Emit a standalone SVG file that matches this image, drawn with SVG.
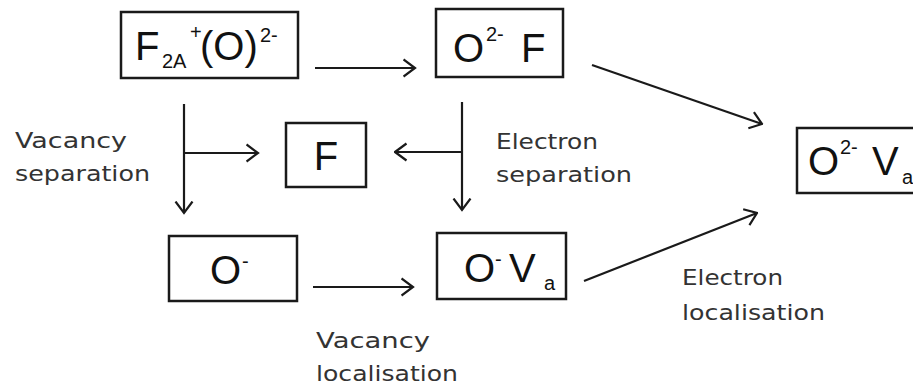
<svg xmlns="http://www.w3.org/2000/svg" width="913" height="385" viewBox="0 0 913 385">
<style>
.box{fill:#fff;stroke:#1a1a1a;stroke-width:2.5}
.n{font-family:"Liberation Sans",Arial,sans-serif;font-size:40px;fill:#111}
.s{font-family:"Liberation Sans",Arial,sans-serif;font-size:20px;fill:#111}
.lbl{font-family:"DejaVu Sans",sans-serif;font-size:21px;fill:#333}
.c{stroke:#1a1a1a;stroke-width:2.2;fill:none;marker-end:url(#ah)}
</style>
<defs>
<marker id="ah" viewBox="0 0 14 20" refX="12.5" refY="10" markerWidth="14" markerHeight="20" markerUnits="userSpaceOnUse" orient="auto">
<path d="M1,1.5 L12.5,10 L1,18.5" fill="none" stroke="#1a1a1a" stroke-width="2.2"/>
</marker>
</defs>
<rect width="913" height="385" fill="#fff"/>
<g id="connectors">
<line class="c" x1="315" y1="68" x2="415" y2="68"/>
<line class="c" x1="184" y1="104" x2="184" y2="213"/>
<line class="c" x1="184" y1="153" x2="258" y2="153"/>
<line class="c" x1="462" y1="102" x2="462" y2="210"/>
<line class="c" x1="462" y1="152" x2="395" y2="152"/>
<line class="c" x1="592" y1="65" x2="762" y2="124"/>
<line class="c" x1="584" y1="281" x2="757" y2="213"/>
<line class="c" x1="313" y1="287" x2="413" y2="287"/>
</g>
<g id="node-F2A">
<rect class="box" x="121" y="12" width="177" height="66"/>
<text class="n" x="135" y="60">F</text>
<text class="s" x="162" y="68">2A</text>
<text class="s" x="190" y="39">+</text>
<text class="n" x="200" y="60">(O)</text>
<text class="s" x="260" y="42">2-</text>
</g>
<g id="node-O2F">
<rect class="box" x="436" y="9" width="127" height="68"/>
<text class="n" x="453" y="62">O</text>
<text class="s" x="486" y="41">2-</text>
<text class="n" x="521" y="62">F</text>
</g>
<g id="node-O2Va">
<rect class="box" x="797" y="128" width="120" height="65"/>
<text class="n" x="808" y="175">O</text>
<text class="s" x="840" y="154">2-</text>
<text class="n" x="872" y="175">V</text>
<text class="s" x="902" y="184">a</text>
</g>
<g id="node-F">
<rect class="box" x="286" y="123" width="80" height="64"/>
<text class="n" x="326" y="170" text-anchor="middle">F</text>
</g>
<g id="node-Om">
<rect class="box" x="169" y="236" width="128" height="65"/>
<text class="n" x="210" y="284">O</text>
<text class="s" x="242" y="268">-</text>
</g>
<g id="node-OmVa">
<rect class="box" x="437" y="233" width="129" height="66"/>
<text class="n" x="464" y="282">O</text>
<text class="s" x="495" y="266">-</text>
<text class="n" x="509" y="282">V</text>
<text class="s" x="544" y="290">a</text>
</g>
<g id="labels">
<text class="lbl" x="15" y="148" textLength="112" lengthAdjust="spacingAndGlyphs">Vacancy</text>
<text class="lbl" x="15" y="181" textLength="135" lengthAdjust="spacingAndGlyphs">separation</text>
<text class="lbl" x="496" y="149" textLength="102" lengthAdjust="spacingAndGlyphs">Electron</text>
<text class="lbl" x="496" y="182" textLength="136" lengthAdjust="spacingAndGlyphs">separation</text>
<text class="lbl" x="316" y="348" textLength="114" lengthAdjust="spacingAndGlyphs">Vacancy</text>
<text class="lbl" x="316" y="381" textLength="142" lengthAdjust="spacingAndGlyphs">localisation</text>
<text class="lbl" x="682" y="285" textLength="101" lengthAdjust="spacingAndGlyphs">Electron</text>
<text class="lbl" x="682" y="320" textLength="143" lengthAdjust="spacingAndGlyphs">localisation</text>
</g>
</svg>
